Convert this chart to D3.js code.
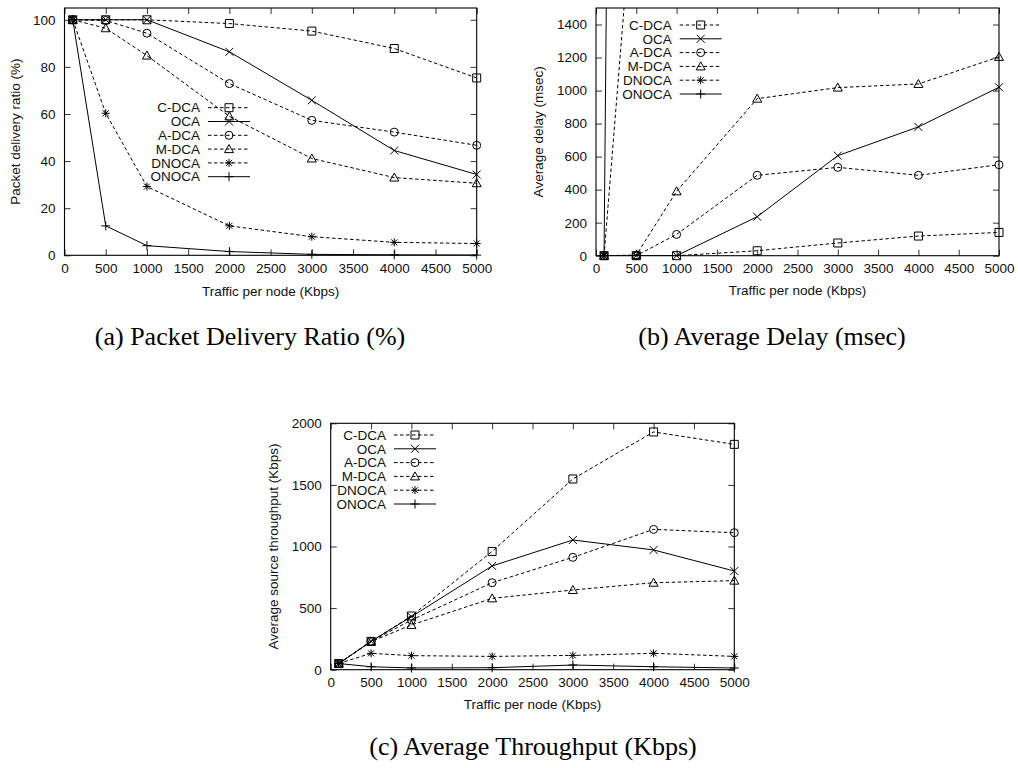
<!DOCTYPE html>
<html>
<head>
<meta charset="utf-8">
<script src="https://cdnjs.cloudflare.com/ajax/libs/d3/7.8.5/d3.min.js"></script>
<style>
body { margin: 0; background: #fff; }
</style>
</head>
<body>
<script>
// x values shared by all three plots
var traffic = [100, 500, 1000, 2000, 3000, 4000, 5000];
var xTicks = [0, 500, 1000, 1500, 2000, 2500, 3000, 3500, 4000, 4500, 5000];
var seriesNames = ["C-DCA", "OCA", "A-DCA", "M-DCA", "DNOCA", "ONOCA"];

// (a) packet delivery ratio, one row per series (same order as seriesNames)
var deliveryRatio = [
    [100, 100, 100, 98.4, 95.2, 87.8, 75.3],
    [100, 100, 100, 86.4, 65.8, 44.5, 34.3],
    [100, 99.7, 94.3, 72.9, 57.3, 52.3, 46.7],
    [100, 96.4, 84.8, 59, 41.1, 33.0, 30.6],
    [100, 60.3, 29.2, 12.5, 7.9, 5.5, 5.0],
    [100, 12.5, 4.1, 1.6, 0.4, 0.2, 0.1]
];
var deliveryTicks = [0, 20, 40, 60, 80, 100];

// (b) average delay, DNOCA and ONOCA leave the plot after the first point
var averageDelay = [
    [0, 0, 0, 30, 77, 119, 141],
    [0, 0, 0, 236, 606, 780, 1020],
    [0, 0, 129, 487, 535, 487, 551],
    [0, 4, 390, 951, 1018, 1040, 1204],
    [0, 2420, 3100, 3900, 4300, 4600, 4800],
    [0, 22000, 24000, 25000, 26000, 26000, 27000]
];
var delayTicks = [0, 200, 400, 600, 800, 1000, 1200, 1400];

// (c) average source throughput
var throughput = [
    [50, 230, 436, 960, 1548, 1930, 1829],
    [50, 230, 430, 842, 1053, 972, 801],
    [50, 230, 403, 706, 912, 1139, 1112],
    [50, 228, 363, 579, 647, 706, 723],
    [50, 133, 114, 108, 116, 133, 108],
    [50, 24, 14, 16, 38, 24, 14]
];
var throughputTicks = [0, 500, 1000, 1500, 2000];

// styles per series
var seriesDashed = [true, false, true, true, true, false];
var seriesMarker = ["square", "cross", "circle", "triangle", "star", "plus"];

var width = 1018,
    height = 768,
    sansFont = "'Liberation Sans', Arial, sans-serif",
    serifFont = "'Liberation Serif', 'Times New Roman', serif";

var panels = [
    {id: "a", data: deliveryRatio, yMax: 105, yTicks: deliveryTicks,
     left: 64.5, right: 476.7, top: 8, bottom: 255.3,
     yTitle: "Packet delivery ratio (%)", yTitleX: 19.5, xTitleY: 295.5,
     caption: "(a) Packet Delivery Ratio (%)", captionX: 250, captionY: 345,
     legendRight: 200, legendTop: 107.7},
    {id: "b", data: averageDelay, yMax: 1500, yTicks: delayTicks,
     left: 596, right: 999, top: 8, bottom: 255.7,
     yTitle: "Average delay (msec)", yTitleX: 542.5, xTitleY: 295,
     caption: "(b) Average Delay (msec)", captionX: 772, captionY: 345,
     legendRight: 671.7, legendTop: 25},
    {id: "c", data: throughput, yMax: 2000, yTicks: throughputTicks,
     left: 330.7, right: 734.3, top: 423.3, bottom: 669.7,
     yTitle: "Average source throughput (Kbps)", yTitleX: 277.5, xTitleY: 709,
     caption: "(c) Average Throughput (Kbps)", captionX: 533, captionY: 755,
     legendRight: 386, legendTop: 435}
];

var svg = d3.select("body")
    .append("svg")
    .attr("width", width)
    .attr("height", height);

var plainNumber = d3.format("d");

function markerPath(type) {
    if (type == "square") return "M-4,-4H4V4H-4Z";
    if (type == "cross") return "M-4,-4L4,4M-4,4L4,-4";
    if (type == "circle") return "M4,0A4,4 0 1,1 -4,0A4,4 0 1,1 4,0Z";
    if (type == "triangle") return "M0,-4.5L4.5,3.5L-4.5,3.5Z";
    if (type == "star") return "M-4,0H4M0,-4V4M-3,-3L3,3M-3,3L3,-3";
    return "M-4.5,0H4.5M0,-4.5V4.5";
}

function drawPanel(p) {
    var g = svg.append("g");

    var x = d3.scaleLinear()
            .domain([0, 5000])
            .range([p.left, p.right]);

    var y = d3.scaleLinear()
            .domain([0, p.yMax])
            .range([p.bottom, p.top]);

    // clip for lines that run off the top
    svg.append("clipPath")
        .attr("id", "clip-" + p.id)
        .append("rect")
        .attr("x", p.left)
        .attr("y", p.top)
        .attr("width", p.right - p.left)
        .attr("height", p.bottom - p.top);

    // axes, ticks pointing inwards, mirrored on top and right
    var bottomAxis = g.append("g")
        .attr("transform", "translate(0," + p.bottom + ")")
        .call(d3.axisBottom(x).tickValues(xTicks).tickFormat(plainNumber)
            .tickSizeInner(-6).tickSizeOuter(0).tickPadding(8));
    var leftAxis = g.append("g")
        .attr("transform", "translate(" + p.left + ",0)")
        .call(d3.axisLeft(y).tickValues(p.yTicks).tickFormat(plainNumber)
            .tickSizeInner(-6).tickSizeOuter(0).tickPadding(9));
    var topAxis = g.append("g")
        .attr("transform", "translate(0," + p.top + ")")
        .call(d3.axisTop(x).tickValues(xTicks).tickSizeInner(-6).tickSizeOuter(0).tickFormat(""));
    var rightAxis = g.append("g")
        .attr("transform", "translate(" + p.right + ",0)")
        .call(d3.axisRight(y).tickValues(p.yTicks).tickSizeInner(-6).tickSizeOuter(0).tickFormat(""));

    [bottomAxis, leftAxis, topAxis, rightAxis].forEach(function(a) {
        a.select(".domain").remove();
        a.selectAll("line").attr("stroke", "#333");
        a.selectAll("text")
            .attr("font-family", sansFont)
            .attr("font-size", "13.5px")
            .attr("fill", "#111");
    });

    // frame
    g.append("rect")
        .attr("x", p.left)
        .attr("y", p.top)
        .attr("width", p.right - p.left)
        .attr("height", p.bottom - p.top)
        .attr("fill", "none")
        .attr("stroke", "#000")
        .attr("stroke-width", 1.1);

    var line = d3.line()
        .x(function(d) { return x(d[0]); })
        .y(function(d) { return y(d[1]); });

    // series lines
    var lines = g.append("g").attr("clip-path", "url(#clip-" + p.id + ")");
    p.data.forEach(function(values, i) {
        lines.append("path")
            .datum(d3.zip(traffic, values))
            .attr("d", line)
            .attr("fill", "none")
            .attr("stroke", "#000")
            .attr("stroke-width", 1)
            .attr("stroke-dasharray", seriesDashed[i] ? "3.5,2.5" : null);
    });

    // point markers (only points inside the y range)
    p.data.forEach(function(values, i) {
        g.append("g").selectAll("path")
            .data(d3.zip(traffic, values).filter(function(d) { return d[1] <= p.yMax; }))
            .enter()
            .append("path")
            .attr("transform", function(d) {
                return "translate(" + x(d[0]) + "," + y(d[1]) + ")";
            })
            .attr("d", markerPath(seriesMarker[i]))
            .attr("fill", "none")
            .attr("stroke", "#000")
            .attr("stroke-width", 1);
    });

    // legend
    var legend = g.append("g");
    seriesNames.forEach(function(name, i) {
        var ly = p.legendTop + i * 13.8;
        legend.append("text")
            .attr("x", p.legendRight)
            .attr("y", ly)
            .attr("dy", "0.35em")
            .attr("text-anchor", "end")
            .attr("font-family", sansFont)
            .attr("font-size", "13.5px")
            .attr("fill", "#111")
            .text(name);
        legend.append("line")
            .attr("x1", p.legendRight + 8)
            .attr("x2", p.legendRight + 50)
            .attr("y1", ly)
            .attr("y2", ly)
            .attr("stroke", "#000")
            .attr("stroke-width", 1)
            .attr("stroke-dasharray", seriesDashed[i] ? "3.5,2.5" : null);
        legend.append("path")
            .attr("transform", "translate(" + (p.legendRight + 29) + "," + ly + ")")
            .attr("d", markerPath(seriesMarker[i]))
            .attr("fill", "none")
            .attr("stroke", "#000")
            .attr("stroke-width", 1);
    });

    // axis titles
    g.append("text")
        .attr("x", (p.left + p.right) / 2)
        .attr("y", p.xTitleY)
        .attr("text-anchor", "middle")
        .attr("font-family", sansFont)
        .attr("font-size", "13.5px")
        .attr("fill", "#111")
        .text("Traffic per node (Kbps)");

    g.append("text")
        .attr("transform", "translate(" + p.yTitleX + "," + ((p.top + p.bottom) / 2) + ") rotate(-90)")
        .attr("text-anchor", "middle")
        .attr("font-family", sansFont)
        .attr("font-size", "13.5px")
        .attr("fill", "#111")
        .text(p.yTitle);

    // caption below the plot
    g.append("text")
        .attr("x", p.captionX)
        .attr("y", p.captionY)
        .attr("text-anchor", "middle")
        .attr("font-family", serifFont)
        .attr("font-size", "26px")
        .attr("fill", "#000")
        .text(p.caption);
}

panels.forEach(drawPanel);
</script>
</body>
</html>
